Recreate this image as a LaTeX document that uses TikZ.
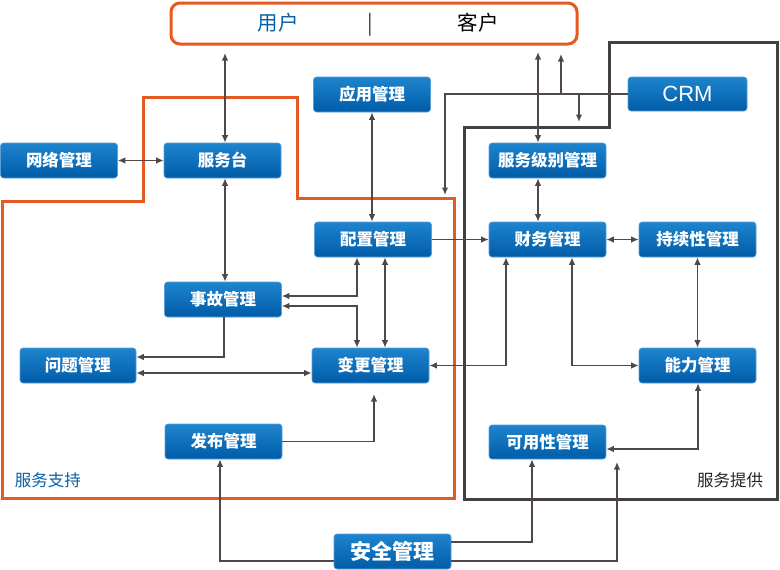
\documentclass[tikz,border=0pt]{standalone}
\usepackage{fontspec}
\setmainfont{Liberation Sans}
\newfontfamily\cjk{Noto Sans CJK SC}
\usetikzlibrary{arrows.meta}
\definecolor{boxtop}{RGB}{30,132,205}
\definecolor{boxbot}{RGB}{0,92,168}
\definecolor{boxedge}{RGB}{90,160,215}
\definecolor{linecol}{RGB}{80,72,72}
\definecolor{orangec}{RGB}{228,90,32}
\definecolor{darkc}{RGB}{68,64,64}
\definecolor{userblue}{RGB}{10,95,165}
\begin{document}
\begin{tikzpicture}[x=1pt,y=-1pt,
  box/.style={rounded corners=3pt, draw=boxedge, line width=0.6pt, top color=boxtop, bottom color=boxbot,
    text=white, font=\cjk\bfseries\fontsize{16.5}{16.5}\selectfont, minimum width=117pt, minimum height=35pt, inner sep=0pt},
  conn/.style={draw=linecol, line width=1.4pt},
  oneway/.style={conn,-{Latex[length=7.5pt,width=6.5pt]}},
  twoway/.style={conn,{Latex[length=7.5pt,width=6.5pt]}-{Latex[length=7.5pt,width=6.5pt]}},
  region/.style={line width=3pt, line join=miter},
  toptext/.style={font=\cjk\fontsize{20.5}{20.5}\selectfont},
  lab/.style={font=\cjk\fontsize{16.5}{16.5}\selectfont}
]
\useasboundingbox (0,0) rectangle (780,570);
\fill[white] (0,0) rectangle (780,570);

% regions
\draw[region, draw=orangec] (2,201) -- (143,201) -- (143,97) -- (297,97) -- (297,198) -- (454,198) -- (454,498) -- (2,498) -- cycle;
\draw[region, draw=darkc] (464,499) -- (464,127) -- (609,127) -- (609,42) -- (777,42) -- (777,499) -- cycle;

% top box
\node[draw=orangec, line width=3pt, rounded corners=9pt, minimum width=406pt, minimum height=41pt, inner sep=0pt] (top) at (374,23.5) {};
\node[toptext, text=userblue] (yh) at (278,23) {用户};
\node[toptext, text=black!80] (sep) at (370,25) {|};
\node[toptext, text=black] (kh) at (478,23) {客户};

% nodes
\node[box] (wl) at (59,160.5) {网络管理};
\node[box] (fwt) at (222.5,160.5) {服务台};
\node[box] (yy) at (372,94.5) {应用管理};
\node[box, font=\fontsize{22}{22}\selectfont, minimum height=34pt, minimum width=119pt] (crm) at (687.5,94) {CRM};
\node[box] (fwjb) at (547.5,160.5) {服务级别管理};
\node[box] (pz) at (373,239.5) {配置管理};
\node[box] (cw) at (547.5,239.5) {财务管理};
\node[box] (cx) at (697.5,239.5) {持续性管理};
\node[box] (sg) at (223,299.5) {事故管理};
\node[box, minimum width=116pt] (wt) at (78,365.5) {问题管理};
\node[box] (bg) at (370.5,365.5) {变更管理};
\node[box] (nl) at (697.5,365.5) {能力管理};
\node[box] (fb) at (223.5,441.5) {发布管理};
\node[box, minimum height=34pt] (ky) at (547.5,442) {可用性管理};
\node[box, font=\cjk\bfseries\fontsize{21}{21}\selectfont] (aq) at (392.5,551.5) {安全管理};

% labels
\node[lab, text=userblue] (l1) at (48,480) {服务支持};
\node[lab, text=black!85] (l2) at (730,480) {服务提供};

% coordinates
\coordinate (u1) at (225,53);
\coordinate (k1) at (538,52);
\coordinate (c1) at (445,195);
\coordinate (c2) at (561,54);
\coordinate (c3) at (579,122);
\coordinate (f1) at (572,0);
\coordinate (f2) at (506,0);
\coordinate (g1) at (357,296);
\coordinate (g2) at (357,306);
\coordinate (g3) at (385,0);
\coordinate (h1) at (224,357);
\coordinate (h2) at (0,373);
\coordinate (b1) at (374,394);
\coordinate (s1) at (220,561);
\coordinate (s2) at (532,542);
\coordinate (s3) at (617,561);
\coordinate (s4) at (617,462);
\coordinate (n1) at (698,449);

% connectors
\draw[twoway] (u1) -- (fwt.north -| u1);
\draw[twoway] (wl.east) -- (fwt.west);
\draw[twoway] (fwt.south -| u1) -- (sg.north -| u1);
\draw[twoway] (yy.south) -- (yy.south |- pz.north);
\draw[oneway] (pz.east) -- (pz.east -| cw.west);
\draw[twoway] (k1) -- (k1 |- fwjb.north);
\draw[twoway] (fwjb.south -| k1) -- (cw.north -| k1);
\draw[oneway] (crm.west) -| (c1);
\draw[oneway] (c2 |- crm.west) -- (c2);
\draw[oneway] (c3 |- crm.west) -- (c3);
\draw[twoway] (cw.east) -- (cx.west);
\draw[twoway] (cx.south) -- (nl.north);
\draw[twoway] (f1 |- cw.south) |- (nl.west);
\draw[twoway] (f2 |- cw.south) |- (bg.east);
\draw[twoway] (g1 |- pz.south) |- (sg.east |- g1);
\draw[twoway] (sg.east |- g2) -| (g2 |- bg.north);
\draw[twoway] (g3 |- pz.south) -- (g3 |- bg.north);
\draw[oneway] (h1 |- sg.south) |- (wt.east |- h1);
\draw[twoway] (wt.east |- h2) -- (bg.west |- h2);
\draw[oneway] (fb.east) -| (b1);
\draw[oneway] (aq.west |- s1) -| (fb.south -| s1);
\draw[oneway] (aq.east |- s2) -| (ky.south -| s2);
\draw[oneway] (aq.east |- s3) -| (s4);
\draw[twoway] (nl.south -| n1) |- (ky.east |- n1);
\end{tikzpicture}
\end{document}
